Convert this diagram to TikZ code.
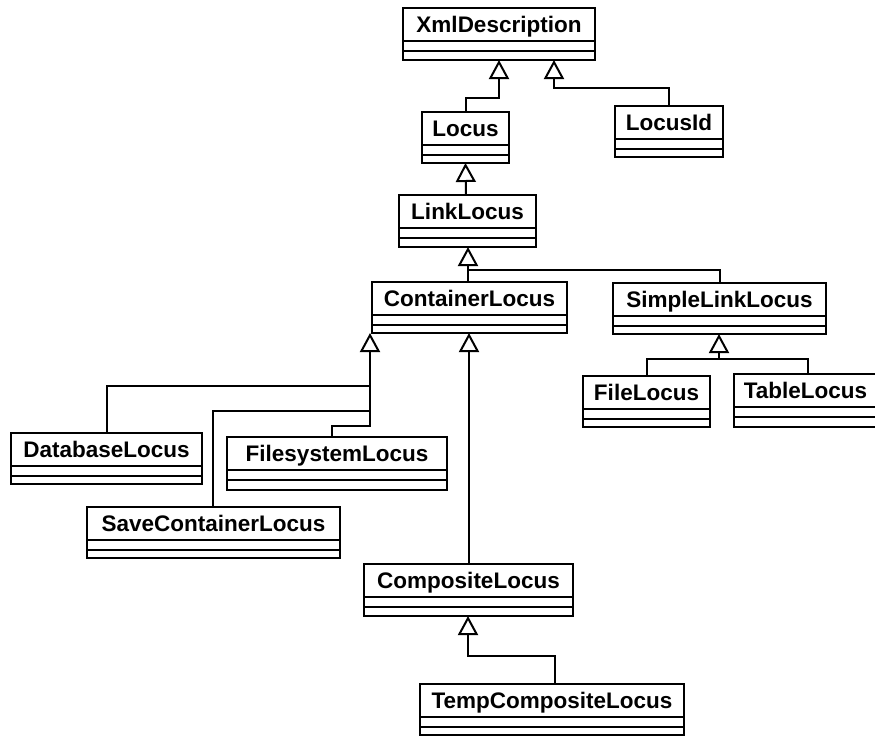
\documentclass[tikz,border=0pt]{standalone}
\usepackage{fontspec}
\setmainfont{Liberation Sans}
\usetikzlibrary{arrows.meta,calc}
\tikzset{
  clsbox/.style={draw, line width=2pt, inner sep=0pt, outer sep=0pt, fill=white},
  clsname/.style={font=\bfseries\fontsize{22.5}{25}\selectfont, inner sep=0pt},
  clsline/.style={line width=2pt},
  gen/.style={line width=2pt, -{Triangle[open, length=19pt, width=20pt, fill=white]}},
  conn/.style={line width=2pt},
}
\newcommand\umlclass[6]{%
  \node[clsbox, minimum width={(#4-#2)*1pt}, minimum height={(#5-#3)*1pt}, anchor=north west] (#1) at (#2,#3) {};
  \node[clsname, anchor=base] (#1-name) at ($(#1.north)+(0,24.5)$) {#6};
  \draw[clsline] ($(#1.north west)+(0,33)$) -- ($(#1.north east)+(0,33)$);
  \draw[clsline] ($(#1.north west)+(0,42.5)$) -- ($(#1.north east)+(0,42.5)$);
}
\begin{document}
\begin{tikzpicture}[x=1pt, y=-1pt]
\useasboundingbox (0,0) rectangle (875,737);
\fill[white] (0,0) rectangle (875,737);
% classes
\umlclass{xml}{403}{8}{595}{60}{XmlDescription}
\umlclass{locus}{422}{112}{509}{163}{Locus}
\umlclass{locusid}{615}{106}{723}{157}{LocusId}
\umlclass{link}{399}{195}{536}{247}{LinkLocus}
\umlclass{container}{372}{282}{567}{333}{ContainerLocus}
\umlclass{simple}{613}{283}{826}{334}{SimpleLinkLocus}
\umlclass{file}{583}{376}{710}{427}{FileLocus}
\umlclass{table}{734}{374}{877}{427}{TableLocus}
\umlclass{database}{11}{433}{202}{484}{DatabaseLocus}
\umlclass{filesystem}{227}{437}{447}{490}{FilesystemLocus}
\umlclass{save}{87}{507}{340}{558}{SaveContainerLocus}
\umlclass{composite}{364}{564}{573}{616}{CompositeLocus}
\umlclass{temp}{420}{684}{684}{735}{TempCompositeLocus}
% junction points
\coordinate (jLink) at (468,270);
\coordinate (jSimple) at (719,359);
\coordinate (jDb) at (370,386);
\coordinate (jSave) at (370,411);
\coordinate (jFs) at (370,426);
% connectors
\draw[gen] (locus.north) |- (499,98) -- (499,0 |- xml.south);
\draw[gen] (locusid.north) |- (554,88) -- (554,0 |- xml.south);
\draw[gen] (466,0 |- link.north) -- (locus.south);
\draw[gen] (468,0 |- container.north) -- (468,0 |- link.south);
\draw[conn] (simple.north) |- (jLink);
\draw[gen] (file.north) |- (jSimple) -- (719,0 |- simple.south);
\draw[conn] (808,0 |- table.north) |- (jSimple);
\draw[gen] (database.north) |- (jDb) -- (370,0 |- container.south);
\draw[conn] (213,0 |- save.north) |- (jSave);
\draw[conn] (332,0 |- filesystem.north) |- (jFs) -- (jDb);
\draw[gen] (469,0 |- composite.north) -- (469,0 |- container.south);
\draw[gen] (555,0 |- temp.north) |- (468,656) -- (468,0 |- composite.south);
\end{tikzpicture}
\end{document}
